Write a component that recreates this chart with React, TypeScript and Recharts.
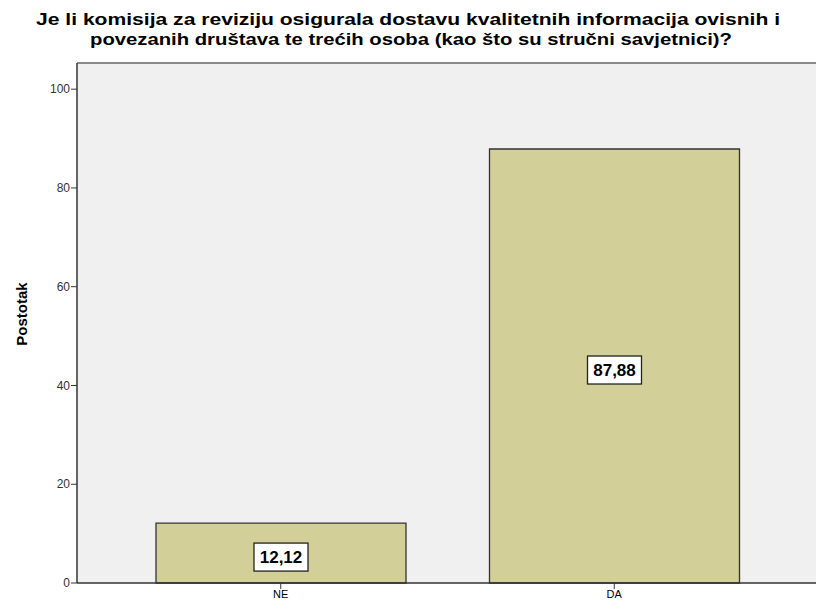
import React from 'react';
import { BarChart, Bar, XAxis, YAxis, CartesianGrid, LabelList, ReferenceLine, Label } from 'recharts';

const categories = ['NE', 'DA'];
const percentages = [12.12, 87.88];
const yTicks = [0, 20, 40, 60, 80, 100];
const titleLines = [
  'Je li komisija za reviziju osigurala dostavu kvalitetnih informacija ovisnih i',
  'povezanih društava te trećih osoba (kao što su stručni savjetnici)?',
];
const yAxisTitle = 'Postotak';

const data = categories.map((c, i) => ({ name: c, value: percentages[i] }));

const FONT = 'Arial, "Liberation Sans", sans-serif';

const BoxLabel = (props: any) => {
  const { x, y, width, height, value } = props;
  const cx = x + width / 2;
  const cy = y + height / 2 + 4;
  const text = Number(value).toFixed(2).replace('.', ',');
  const w = 54;
  const h = 28;
  return (
    <g>
      <rect x={cx - w / 2} y={cy - h / 2} width={w} height={h} fill="#ffffff" stroke="#222" strokeWidth={1.3} />
      <text x={cx} y={cy + 6} textAnchor="middle" fontFamily={FONT} fontWeight="bold" fontSize={17} fill="#000">
        {text}
      </text>
    </g>
  );
};

const YTitle = () => (
  <text
    x={0}
    y={0}
    transform="translate(27, 314) rotate(-90)"
    textAnchor="middle"
    fontFamily={FONT}
    fontWeight="bold"
    fontSize={15}
    fill="#000"
  >
    {yAxisTitle}
  </text>
);

export default function App() {
  return (
    <div style={{ position: 'absolute', left: 0, top: 0, width: 816, height: 608, background: '#fff' }}>
      <svg width={816} height={60} style={{ position: 'absolute', left: 0, top: 0 }}>
        <text
          x={408}
          y={25}
          textAnchor="middle"
          fontFamily={FONT}
          fontWeight="bold"
          fontSize={17}
          textLength={744}
          lengthAdjust="spacingAndGlyphs"
          fill="#000"
        >
          {titleLines[0]}
        </text>
        <text
          x={411}
          y={45}
          textAnchor="middle"
          fontFamily={FONT}
          fontWeight="bold"
          fontSize={17}
          textLength={642}
          lengthAdjust="spacingAndGlyphs"
          fill="#000"
        >
          {titleLines[1]}
        </text>
      </svg>
      <BarChart
        width={816}
        height={608}
        data={data}
        margin={{ top: 63, right: 0, left: 0, bottom: 0 }}
        style={{ position: 'absolute', left: 0, top: 0 }}
      >
        <CartesianGrid fill="#F0F0F0" horizontal={false} vertical={false} stroke="none" />
        <ReferenceLine y={105.3} stroke="#8a8a8a" strokeWidth={2} ifOverflow="extendDomain" />
        <XAxis
          dataKey="name"
          height={25}
          padding={{ left: 37, right: 35 }}
          axisLine={{ stroke: '#333', strokeWidth: 1.5 }}
          tickLine={{ stroke: '#333' }}
          tickSize={6}
          tick={{ fontFamily: FONT, fontSize: 11, fill: '#000' }}
          tickMargin={1}
        />
        <YAxis
          width={77}
          domain={[0, 105.3]}
          ticks={yTicks}
          axisLine={{ stroke: '#333', strokeWidth: 1.5 }}
          tickLine={{ stroke: '#333' }}
          tickSize={6}
          tickMargin={1}
          tick={{ fontFamily: FONT, fontSize: 12, fill: '#333' }}
        >
          <Label content={YTitle} />
        </YAxis>
        <Bar dataKey="value" fill="#D3CF98" stroke="#333" strokeWidth={1.3} isAnimationActive={false} barSize={250}>
          <LabelList dataKey="value" content={BoxLabel} />
        </Bar>
      </BarChart>
    </div>
  );
}
